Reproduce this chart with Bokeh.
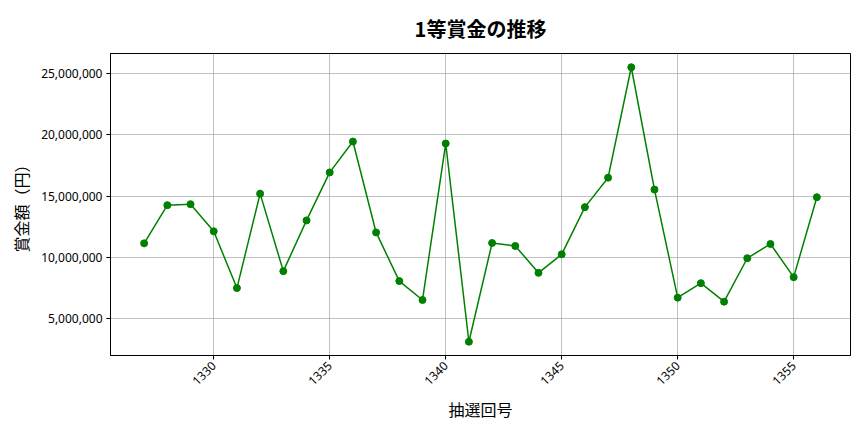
import math

from bokeh.embed import file_html
from bokeh.models import FixedTicker, NumeralTickFormatter, Range1d
from bokeh.plotting import figure
from bokeh.resources import INLINE

# 抽選回号 and 1等賞金 (円)
draws = list(range(1327, 1357))
prize = [
    11150000, 14260000, 14340000, 12130000, 7510000, 15200000, 8890000, 13020000,
    16930000, 19440000, 12040000, 8080000, 6540000, 19280000, 3140000, 11180000,
    10940000, 8750000, 10260000, 14100000, 16500000, 25490000, 15530000, 6730000,
    7910000, 6400000, 9940000, 11100000, 8400000, 14910000,
]
x_ticks = [1330, 1335, 1340, 1345, 1350, 1355]
y_ticks = [5000000, 10000000, 15000000, 20000000, 25000000]

FONT = "Noto Sans CJK JP"
TICK_FONT = "Noto Sans"

p = figure(
    width=856, height=424,
    output_backend="svg", toolbar_location=None,
    title="1等賞金の推移",
    x_axis_label="抽選回号", y_axis_label="賞金額（円）",
    x_range=Range1d(1325.55, 1357.45), y_range=Range1d(2020000, 26610000),
    min_border_left=110, min_border_right=6, min_border_top=52, min_border_bottom=69,
)

p.line(draws, prize, line_color="green", line_width=1.5)
p.scatter(draws, prize, size=7, fill_color="green", line_color="green")

# title
p.title.align = "center"
p.title.text_font = FONT
p.title.text_font_size = "20px"
p.title.text_font_style = "bold"
p.title.text_color = "black"
p.title.text_line_height = 0.9
p.title.standoff = 22

# axes
for ax in (p.xaxis[0], p.yaxis[0]):
    ax.axis_label_text_font = FONT
    ax.axis_label_text_font_size = "16px"
    ax.axis_label_text_font_style = "normal"
    ax.axis_label_text_color = "black"
    ax.major_label_text_font = TICK_FONT
    ax.major_label_text_font_size = "12px"
    ax.major_label_text_color = "black"
    ax.major_label_standoff = 4
    ax.axis_line_color = "black"
    ax.major_tick_line_color = "black"
    ax.major_tick_out = 4
    ax.major_tick_in = 0
    ax.minor_tick_line_color = None

p.xaxis.ticker = FixedTicker(ticks=x_ticks)
p.yaxis.ticker = FixedTicker(ticks=y_ticks)
p.yaxis.formatter = NumeralTickFormatter(format="0,0")
p.xaxis.major_label_orientation = math.pi / 4

# grid and frame
p.grid.grid_line_color = "#b0b0b0"
p.grid.grid_line_width = 0.8
p.outline_line_color = "black"
p.outline_line_width = 1
p.outline_line_alpha = 1

open("out.html", "w").write(file_html(p, INLINE))
